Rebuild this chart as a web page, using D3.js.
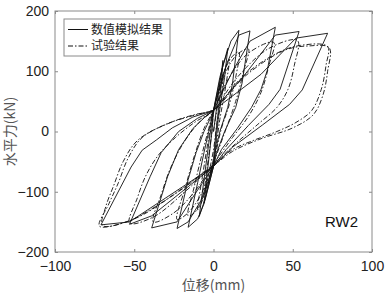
<!DOCTYPE html>
<html>
<head>
<meta charset="utf-8">
<script src="https://cdn.jsdelivr.net/npm/d3@7"></script>
<style>
  body { margin: 0; background: #fff; }
  svg { display: block; }
</style>
</head>
<body>
<script>
  // axis ticks
  const xTicks = [-100, -50, 0, 50, 100];
  const yTicks = [-200, -100, 0, 100, 200];

  // numerical simulation (solid), [displacement mm, force kN]
  const simulation = [
    [0, 0], [3, 60], [6, 118], [5, 80], [2, 10], [0, -45], [-4, -95], [-6, -119], [-4, -70], [-1, 0], [0, 35],
    [4, 90], [9, 138], [7, 90], [3, 20], [0, -58], [-5, -110], [-9, -141], [-6, -80], [-3, -20], [0, 35],
    [6, 110], [11, 150], [16, 168], [12, 80], [9, 40], [4, 0], [1, -35], [0, -58], [-6, -120], [-10, -145], [-16, -159], [-10, -85], [-6, -35], [-3, 0], [0, 35],
    [8, 110], [16, 160], [23, 167], [18, 80], [14, 40], [7, 0], [2, -35], [0, -58], [-8, -115], [-16, -150], [-23, -161], [-16, -80], [-11, -35], [-6, 0], [-2, 22], [0, 35],
    [12, 100], [23, 150], [39, 173], [34, 102], [30, 70], [24, 40], [15, 5], [5, -30], [0, -58], [-12, -105], [-23, -150], [-39, -160], [-29, -75], [-22, -30], [-13, 5], [-5, 25], [0, 35],
    [20, 95], [39, 160], [54, 166], [42, 70], [35, 45], [22, 10], [8, -30], [0, -58], [-20, -100], [-39, -140], [-53, -154], [-40, -75], [-33, -35], [-22, 0], [-10, 22], [0, 35],
    [30, 95], [52, 155], [72, 163], [56, 69], [48, 45], [31, 11], [12, -26], [0, -58], [-30, -110], [-53, -150], [-71, -155], [-52, -59], [-45, -31], [-36, -14], [-26, 6], [-13, 24], [0, 35]
  ];

  // test result (dash-dot)
  const experiment = [
    [0, 0], [3, 50], [6, 95], [5, 60], [2, 10], [0, -30], [-3, -70], [-6, -105], [-4, -60], [-1, 0], [0, 30],
    [5, 85], [10, 120], [8, 80], [4, 20], [0, -50], [-5, -100], [-10, -130], [-7, -75], [-3, -10], [0, 33],
    [6, 95], [12, 125], [16, 132], [14, 90], [10, 45], [5, 5], [0, -52], [-6, -105], [-12, -135], [-16, -140], [-12, -90], [-7, -35], [-3, 5], [0, 35],
    [8, 100], [15, 128], [22, 137], [19, 100], [14, 50], [8, 5], [0, -52], [-8, -105], [-16, -135], [-23, -146], [-18, -95], [-12, -40], [-6, 5], [0, 35],
    [10, 90], [22, 130], [38, 148], [35, 110], [30, 65], [22, 25], [12, -10], [0, -54], [-12, -100], [-25, -135], [-38, -150], [-33, -105], [-27, -60], [-18, -15], [-8, 18], [0, 35],
    [15, 90], [35, 138], [53, 151], [51, 110], [47, 70], [40, 40], [28, 12], [14, -20], [0, -55], [-18, -100], [-38, -142], [-53, -152], [-48, -110], [-43, -75], [-35, -40], [-24, -10], [-12, 15], [0, 35],
    [18, 90], [40, 130], [55, 143], [72, 141], [71, 110], [68, 70], [62, 35], [52, 15], [40, 0], [25, -15], [12, -30], [0, -55], [-20, -95], [-40, -130], [-55, -150], [-72, -157], [-66, -120], [-60, -85], [-54, -45], [-45, -10], [-26, 16], [-12, 28], [0, 36],
    [20, 92], [45, 135], [60, 142], [73, 139], [72, 100], [69, 60], [63, 28], [50, 6], [30, -12], [12, -33], [0, -57], [-25, -105], [-50, -145], [-70, -156], [-68, -125], [-63, -90], [-57, -50], [-48, -15], [-30, 12], [-12, 27], [0, 35]
  ];

  const legendLabels = ['数值模拟结果', '试验结果'];

  const W = 387, H = 295;
  const margin = { top: 11, right: 15, bottom: 43, left: 55 };
  const width = W - margin.left - margin.right,
        height = H - margin.top - margin.bottom;

  const x = d3.scaleLinear().domain([-100, 100]).range([0, width]);
  const y = d3.scaleLinear().domain([-200, 200]).range([height, 0]);

  const svg = d3.select('body').append('svg')
      .attr('width', W)
      .attr('height', H)
    .append('g')
      .attr('transform', `translate(${margin.left}, ${margin.top})`);

  const axisColor = '#8a8a8a';
  const tickFont = '"Liberation Sans", Arial, sans-serif';

  function styleAxis(g, showText) {
    g.select('.domain').remove();
    g.selectAll('.tick line').attr('stroke', axisColor);
    g.selectAll('.tick text')
      .style('font-family', tickFont)
      .style('font-size', '14px')
      .attr('fill', '#222')
      .style('display', showText ? null : 'none');
  }

  // bottom & left axes (ticks inward)
  svg.append('g')
    .attr('transform', `translate(0, ${height})`)
    .call(d3.axisBottom(x).tickValues(xTicks).tickSize(-3).tickPadding(9))
    .call(g => styleAxis(g, true));
  svg.append('g')
    .call(d3.axisLeft(y).tickValues(yTicks).tickSize(-3).tickPadding(6))
    .call(g => styleAxis(g, true));
  // mirrored top & right ticks
  svg.append('g')
    .call(d3.axisTop(x).tickValues(xTicks).tickSize(-3))
    .call(g => styleAxis(g, false));
  svg.append('g')
    .attr('transform', `translate(${width}, 0)`)
    .call(d3.axisRight(y).tickValues(yTicks).tickSize(-3))
    .call(g => styleAxis(g, false));

  // box
  svg.append('rect')
    .attr('width', width)
    .attr('height', height)
    .attr('fill', 'none')
    .attr('stroke', axisColor)
    .attr('stroke-width', 1);

  svg.append('clipPath').attr('id', 'clip')
    .append('rect').attr('width', width).attr('height', height);

  const lineSim = d3.line().x(d => x(d[0])).y(d => y(d[1]));
  const lineExp = d3.line().x(d => x(d[0])).y(d => y(d[1]))
    .curve(d3.curveCatmullRom.alpha(0.5));

  const plot = svg.append('g').attr('clip-path', 'url(#clip)');

  plot.append('path')
    .datum(experiment)
    .attr('d', lineExp)
    .attr('fill', 'none')
    .attr('stroke', '#111')
    .attr('stroke-width', 0.9)
    .attr('stroke-dasharray', '5,2,1.5,2');

  plot.append('path')
    .datum(simulation)
    .attr('d', lineSim)
    .attr('fill', 'none')
    .attr('stroke', '#111')
    .attr('stroke-width', 0.9)
    .attr('stroke-linejoin', 'miter');

  // legend
  const cjk = '"Noto Sans CJK SC", "Noto Sans", sans-serif';
  const legend = svg.append('g').attr('transform', 'translate(9, 8)');
  legend.append('rect')
    .attr('width', 106)
    .attr('height', 37)
    .attr('fill', '#fff')
    .attr('stroke', axisColor);
  const dashes = [null, '5,2,1.5,2'];
  legendLabels.forEach((label, i) => {
    const ly = 10.5 + i * 16.5;
    legend.append('line')
      .attr('x1', 4).attr('x2', 24)
      .attr('y1', ly).attr('y2', ly)
      .attr('stroke', '#111')
      .attr('stroke-width', 1)
      .attr('stroke-dasharray', dashes[i]);
    legend.append('text')
      .attr('x', 27)
      .attr('y', ly)
      .attr('dy', '0.36em')
      .style('font-family', cjk)
      .style('font-size', '12px')
      .attr('fill', '#222')
      .text(label);
  });

  // panel label
  svg.append('text')
    .attr('x', width - 14)
    .attr('y', y(-150) + 5)
    .attr('text-anchor', 'end')
    .style('font-family', tickFont)
    .style('font-size', '15px')
    .attr('fill', '#111')
    .text('RW2');

  // axis titles
  svg.append('text')
    .attr('x', width / 2)
    .attr('y', height + 38)
    .attr('text-anchor', 'middle')
    .style('font-family', cjk)
    .style('font-size', '14px')
    .attr('fill', '#555')
    .text('位移(mm)');

  svg.append('text')
    .attr('transform', 'rotate(-90)')
    .attr('x', -height / 2)
    .attr('y', -45)
    .attr('dy', '0.36em')
    .attr('text-anchor', 'middle')
    .style('font-family', cjk)
    .style('font-size', '14px')
    .attr('fill', '#555')
    .text('水平力(kN)');
</script>
</body>
</html>
